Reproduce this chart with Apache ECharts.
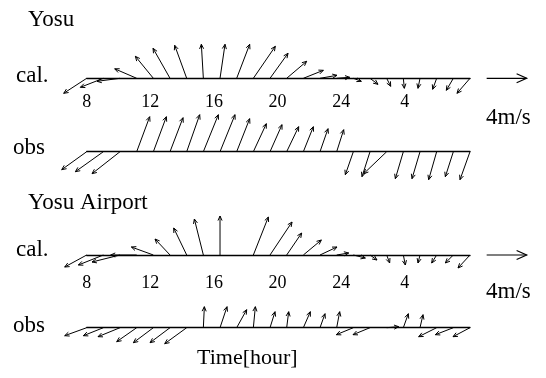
<!DOCTYPE html>
<html>
<head>
<meta charset="utf-8">
<script src="https://cdn.jsdelivr.net/npm/echarts@6/dist/echarts.min.js"></script>
<style>html,body{margin:0;padding:0;background:#fff;}#c{width:546px;height:378px;}</style>
</head>
<body>
<div id="c"></div>
<script>
// hourly stations: 8 h to 7 h next day (hours beyond 24 belong to the next day)
const hours = [8,9,10,11,12,13,14,15,16,17,18,19,20,21,22,23,24,25,26,27,28,29,30,31];
// tick labels as printed
const tickHours = [8,12,16,20,24,28];
const tickLabels = ['8','12','16','20','24','4'];

// wind components [m/s]: u = eastward, v = northward
const yosuCalU = [-2.3,-2.3,-2.3,-2.2,-1.8,-1.7,-1.2,-0.2,0.5,1.3,2.2,1.8,2.0,2.0,1.7,1.3,0.8,0.8,0.4,0.1,-0.2,-0.4,-0.7,-1.3];
const yosuCalV = [-1.5,-0.9,-0.3,0.95,2.2,3.0,3.3,3.4,3.4,3.4,3.2,2.5,1.7,0.8,0.3,0.1,-0.3,-0.6,-0.8,-1.0,-1.0,-1.1,-1.2,-1.5];
const yosuObsU = [-2.5,-2.8,-2.8,1.3,1.3,1.3,1.3,1.5,1.5,1.3,1.3,1.2,1.2,1.0,0.8,0.7,-0.8,-0.8,-2.3,-0.8,-0.8,-0.8,-0.8,-1.0];
const yosuObsV = [-1.8,-2.0,-2.2,3.5,3.5,3.4,3.7,3.7,3.7,3.3,2.8,2.7,2.5,2.5,2.3,2.2,-2.3,-2.5,-2.2,-2.7,-2.7,-2.8,-2.5,-2.8];
const airCalU = [-2.2,-2.5,-2.8,-2.6,-2.2,-1.5,-1.3,-0.9,0.0,0.0,1.5,2.2,1.5,1.8,1.7,1.2,1.2,0.7,0.3,0.2,-0.2,-0.5,-0.8,-1.2];
const airCalV = [-1.2,-1.0,-0.7,0.0,0.8,1.6,2.7,3.6,3.9,0.0,3.8,3.3,2.2,1.5,0.8,0.2,-0.3,-0.5,-0.8,-1.0,-0.8,-0.8,-0.8,-1.3];
const airObsU = [-2.2,-2.0,-2.2,-2.0,-2.0,-2.0,-2.2,0.1,0.7,1.0,0.2,0.5,0.2,0.7,0.5,0.3,-1.7,-1.7,1.2,0.5,0.3,-1.8,-1.8,-1.7];
const airObsV = [-0.8,-0.8,-0.9,-1.4,-1.5,-1.5,-1.6,2.1,2.1,1.8,2.1,1.6,1.6,1.6,1.4,1.6,-0.7,-0.7,0.1,1.4,1.3,-0.9,-0.7,-0.9];
// reference vector: 4 m/s eastward
const refHour = [32];
const refU = [4];
const refV = [0];

function rows(h, u, v) { return h.map((x, i) => [x, u[i], v[i]]); }

function arrowRender(headLen, lw) {
  return function (params, api) {
    const h = api.value(0), u = api.value(1), v = api.value(2);
    const p0 = api.coord([h, 0]);
    const k = api.size([0, 1])[1]; // px per m/s (same scale both directions)
    const x1 = p0[0] + u * k, y1 = p0[1] - v * k;
    const dx = x1 - p0[0], dy = y1 - p0[1];
    const len = Math.sqrt(dx * dx + dy * dy);
    if (len < 0.5) return null;
    const ang = Math.atan2(dy, dx);
    const a = 0.42;
    const hl = Math.min(headLen, len * 0.6);
    const h1 = [x1 - hl * Math.cos(ang - a), y1 - hl * Math.sin(ang - a)];
    const h2 = [x1 - hl * Math.cos(ang + a), y1 - hl * Math.sin(ang + a)];
    return {
      type: 'group',
      children: [
        { type: 'line', shape: { x1: p0[0], y1: p0[1], x2: x1, y2: y1 }, style: { stroke: '#000', lineWidth: lw } },
        { type: 'polyline', shape: { points: [h1, [x1, y1], h2] }, style: { stroke: '#000', fill: null, lineWidth: lw } }
      ]
    };
  };
}

const gridLeft = 86.7, gridRight = 76;
const baselines = [78.3, 151.7, 255, 327.7];
const grids = baselines.map(b => ({ left: gridLeft, right: gridRight, top: b - 40, height: 40 }));

const labelFont = { fontFamily: 'Liberation Serif', fontSize: 18, color: '#000' };
function dataAxis(g) {
  return { type: 'value', gridIndex: g, min: 8, max: 31, position: 'bottom',
    axisLine: { show: true, onZero: false, lineStyle: { color: '#000', width: 1.3 } },
    axisTick: { show: false }, axisLabel: { show: false }, splitLine: { show: false } };
}
function labelAxis(g, margin) {
  return { type: 'value', gridIndex: g, min: 8, max: 32.1, interval: 4, position: 'bottom',
    axisLine: { show: false }, axisTick: { show: false }, splitLine: { show: false },
    axisLabel: Object.assign({ show: true, margin: margin, showMaxLabel: false,
      formatter: function (val) { const i = tickHours.indexOf(val); return i >= 0 ? tickLabels[i] : ''; } }, labelFont) };
}

const xAxes = [dataAxis(0), dataAxis(1), dataAxis(2), dataAxis(3), labelAxis(0, 15), labelAxis(2, 19)];
const yAxes = [0, 1, 2, 3].map(g => ({ type: 'value', gridIndex: g, min: 0, max: 4, show: false }));

function vecSeries(g, data, headLen, lw) {
  return { type: 'custom', xAxisIndex: g, yAxisIndex: g, clip: false, silent: true,
    renderItem: arrowRender(headLen, lw), data: data, encode: { x: 0, y: 1 } };
}

const serif = 'Liberation Serif';
function txt(s, x, y, size) {
  return { type: 'text', x: x, y: y, silent: true,
    style: { text: s, font: size + 'px "' + serif + '"', fill: '#000', textVerticalAlign: 'middle', verticalAlign: 'middle' } };
}

const chart = echarts.init(document.getElementById('c'), null, { renderer: 'canvas' });
chart.setOption({
  animation: false,
  backgroundColor: '#fff',
  grid: grids,
  xAxis: xAxes,
  yAxis: yAxes,
  series: [
    vecSeries(0, rows(hours, yosuCalU, yosuCalV), 5, 1),
    vecSeries(1, rows(hours, yosuObsU, yosuObsV), 5, 1),
    vecSeries(2, rows(hours, airCalU, airCalV), 5, 1),
    vecSeries(3, rows(hours, airObsU, airObsV), 5, 1),
    vecSeries(0, rows(refHour, refU, refV), 11, 1.2),
    vecSeries(2, rows(refHour, refU, refV), 11, 1.2)
  ],
  graphic: [
    txt('Yosu', 28, 20, 23),
    txt('cal.', 16, 76, 23),
    txt('obs', 13, 148, 23),
    txt('Yosu Airport', 28, 203, 23),
    txt('cal.', 16, 250, 23),
    txt('obs', 13, 326, 23),
    txt('4m/s', 486, 118, 23),
    txt('4m/s', 486, 292, 23),
    txt('Time[hour]', 197, 358, 22)
  ]
});
</script>
</body>
</html>
